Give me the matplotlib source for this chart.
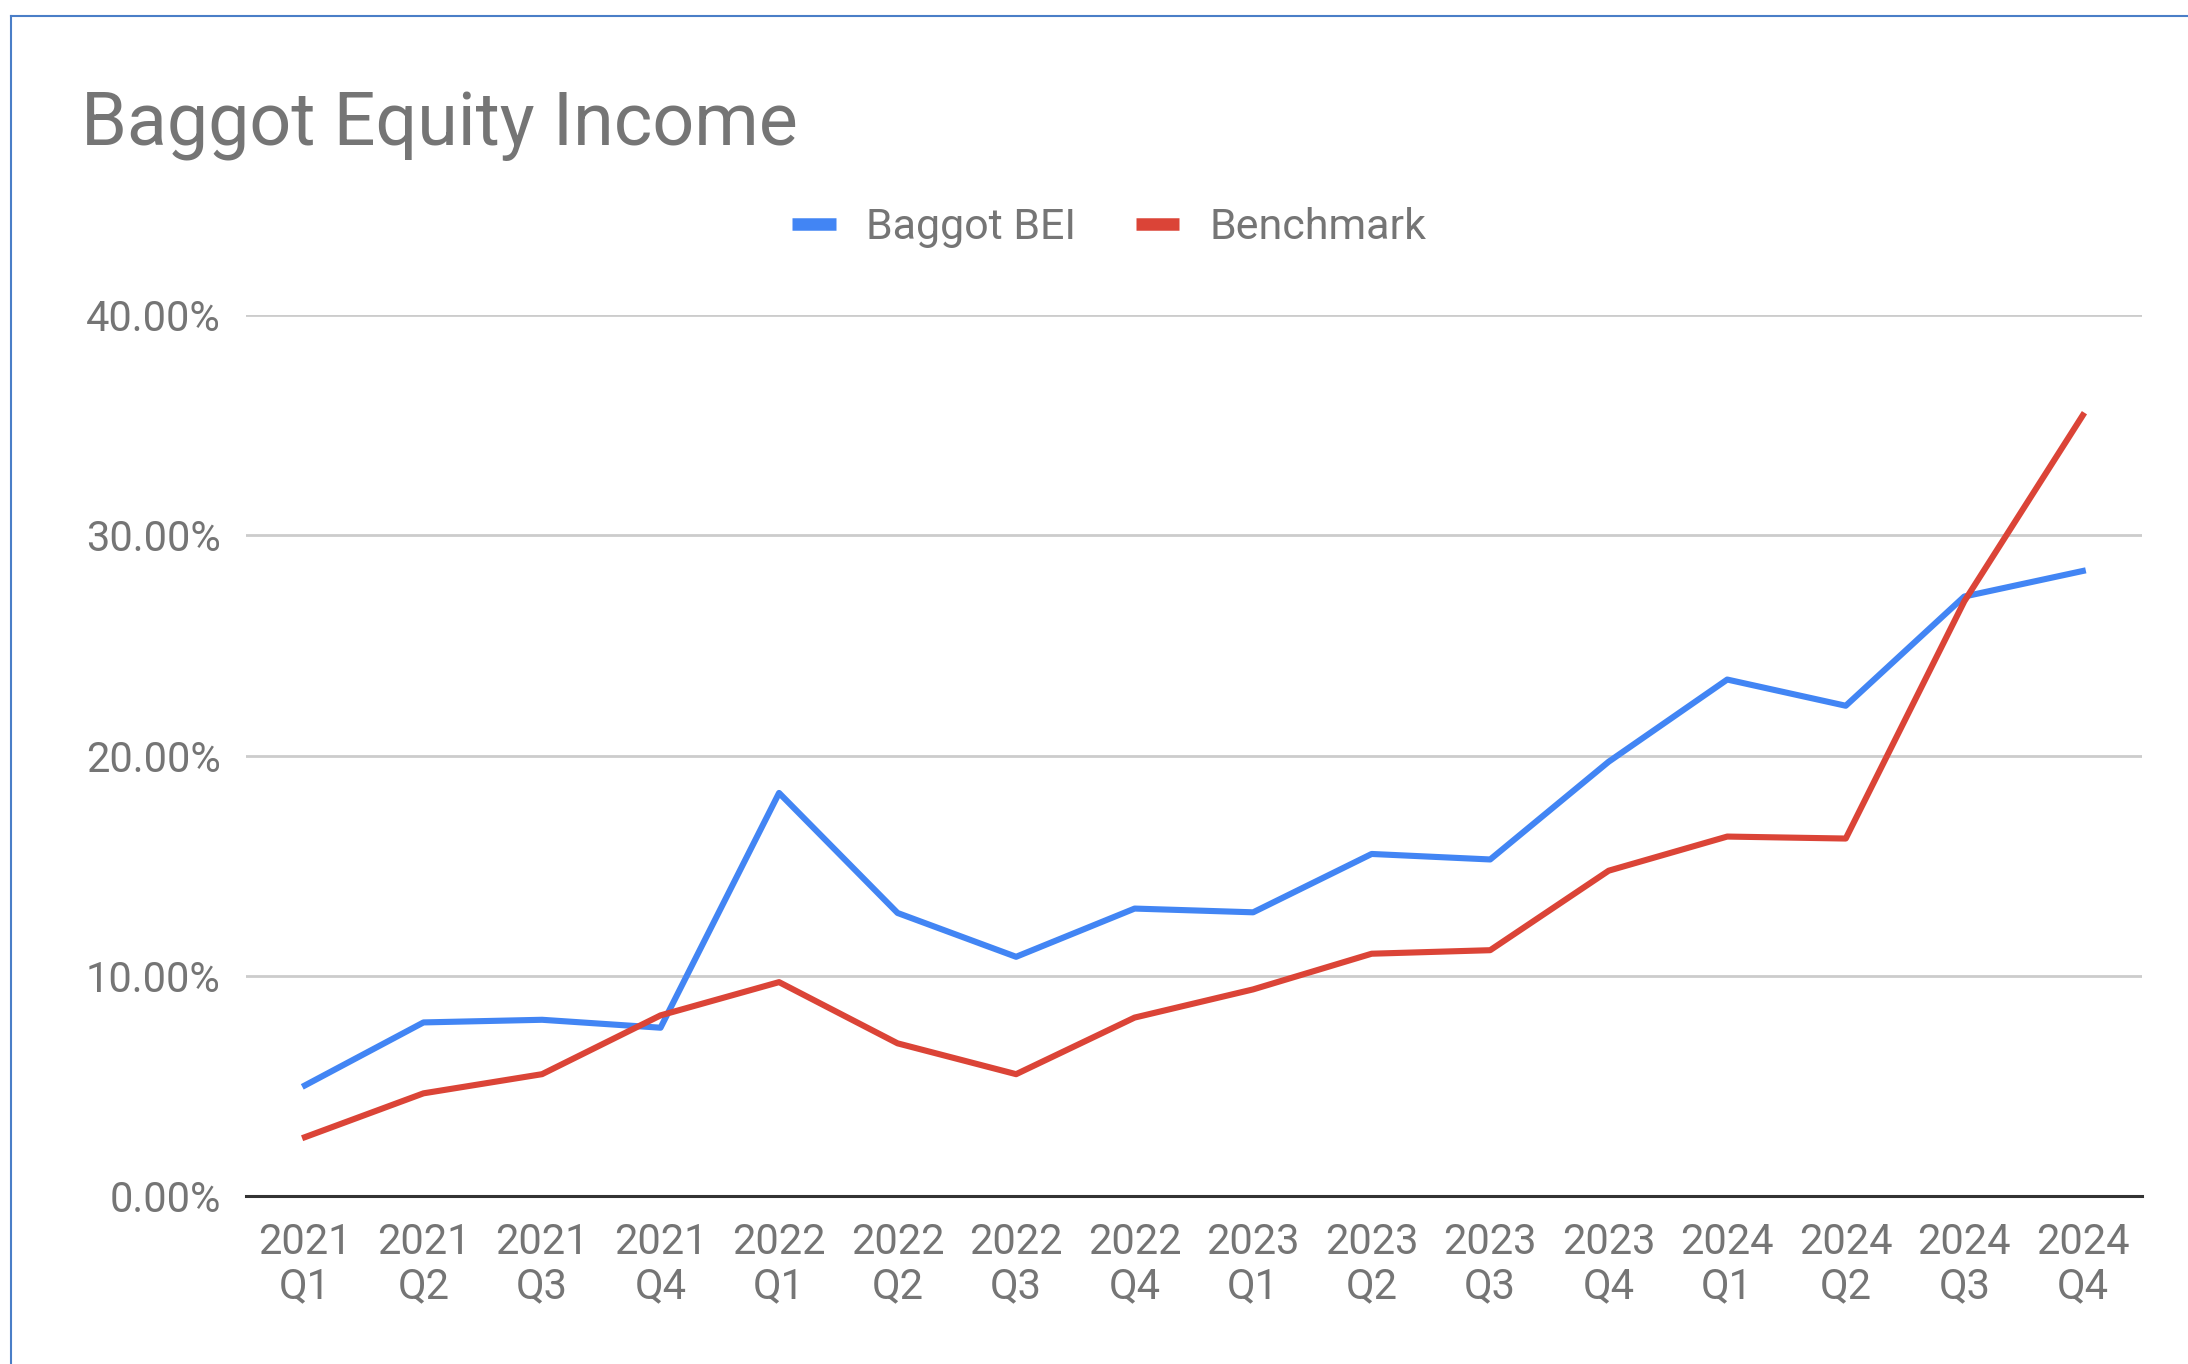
import matplotlib.pyplot as plt
from matplotlib.lines import Line2D
from matplotlib.ticker import PercentFormatter

plt.rcParams['font.family'] = ['Roboto', 'DejaVu Sans']

quarters = ['2021\nQ1', '2021\nQ2', '2021\nQ3', '2021\nQ4',
            '2022\nQ1', '2022\nQ2', '2022\nQ3', '2022\nQ4',
            '2023\nQ1', '2023\nQ2', '2023\nQ3', '2023\nQ4',
            '2024\nQ1', '2024\nQ2', '2024\nQ3', '2024\nQ4']
baggot_bei = [5.02, 7.88, 8.0, 7.64, 18.3, 12.85, 10.86, 13.05,
              12.88, 15.53, 15.28, 19.72, 23.45, 22.26, 27.22, 28.38]
benchmark = [2.67, 4.66, 5.53, 8.2, 9.71, 6.93, 5.53, 8.1,
             9.38, 11.0, 11.16, 14.77, 16.32, 16.23, 27.0, 35.45]

BLUE = '#4285F4'
RED = '#DB4437'
GREY = '#757575'

fig = plt.figure(figsize=(21.88, 13.64), dpi=100)
ax = fig.add_axes([0.1123, 0.1232, 0.979 - 0.1123, 0.769 - 0.1232])

x = list(range(len(quarters)))
ax.plot(x, baggot_bei, color=BLUE, lw=4.4, label='Baggot BEI', zorder=3)
ax.plot(x, benchmark, color=RED, lw=4.4, label='Benchmark', zorder=3)

ax.set_xlim(-0.5, len(quarters) - 0.5)
ax.set_ylim(0, 40)
ax.set_yticks([0, 10, 20, 30, 40])
ax.yaxis.set_major_formatter(PercentFormatter(decimals=2))
ax.set_xticks(x)
ax.set_xticklabels(quarters, linespacing=1.08)

ax.grid(axis='y', color='#cccccc', lw=2)
ax.set_axisbelow(True)
for side in ['top', 'right', 'left']:
    ax.spines[side].set_visible(False)
ax.spines['bottom'].set_color('#333333')
ax.spines['bottom'].set_linewidth(2.2)
ax.spines['bottom'].set_zorder(4)

ax.tick_params(axis='y', length=0, pad=18, labelsize=30, labelcolor=GREY)
ax.tick_params(axis='x', length=0, pad=19, labelsize=30, labelcolor=GREY)
for lbl in ax.get_yticklabels():
    lbl.set_fontstretch('expanded')

fig.text(0.037, 0.894, 'Baggot Equity Income', fontsize=53, color=GREY,
         ha='left', va='baseline')

handles = [Line2D([], [], color=BLUE, lw=9, solid_capstyle='butt'),
           Line2D([], [], color=RED, lw=9, solid_capstyle='butt')]
fig.legend(handles, ['Baggot BEI', 'Benchmark'], loc='center',
           bbox_to_anchor=(0.507, 0.833), ncol=2, frameon=False,
           fontsize=31, labelcolor=GREY, handlelength=1.0,
           handletextpad=0.7, columnspacing=1.4)

# frame of the screenshot: top and left edges only
fig.add_artist(Line2D([0.005, 1.0], [0.988, 0.988], color='#4A7EC7', lw=1.5))
fig.add_artist(Line2D([0.005, 0.005], [0.0, 0.988], color='#4A7EC7', lw=1.5))

fig.savefig('out.png', dpi=100)
